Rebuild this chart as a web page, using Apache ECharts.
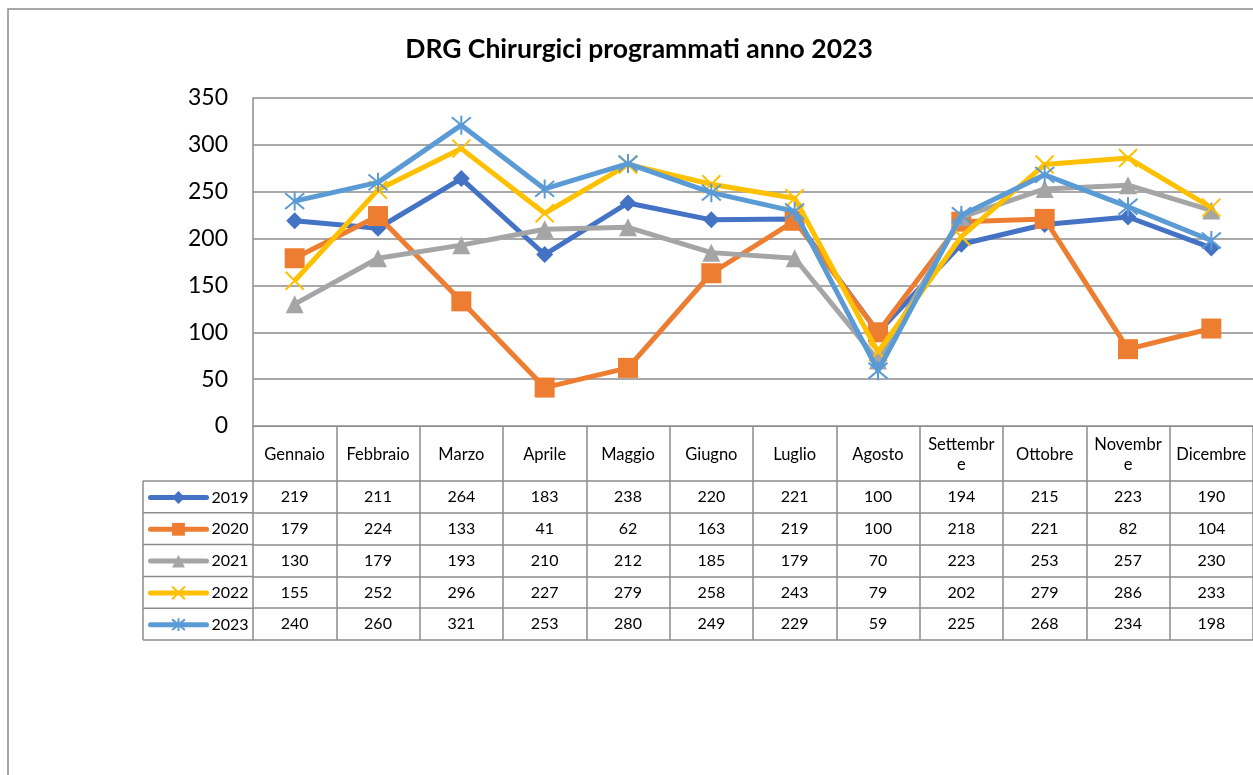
<!DOCTYPE html>
<html>
<head>
<meta charset="utf-8">
<title>DRG Chirurgici programmati anno 2023</title>
<script src="https://cdn.jsdelivr.net/npm/echarts@6/dist/echarts.min.js"></script>
<style>
    html, body { margin: 0; padding: 0; background: #fff; }
    #chart { width: 1253px; height: 775px; }
</style>
</head>
<body>
<div id="chart"></div>
<script>
    // dati
    var mesi = ['Gennaio', 'Febbraio', 'Marzo', 'Aprile', 'Maggio', 'Giugno', 'Luglio', 'Agosto', 'Settembre', 'Ottobre', 'Novembre', 'Dicembre'];
    var anni = ['2019', '2020', '2021', '2022', '2023'];
    var v2019 = [219, 211, 264, 183, 238, 220, 221, 100, 194, 215, 223, 190];
    var v2020 = [179, 224, 133, 41, 62, 163, 219, 100, 218, 221, 82, 104];
    var v2021 = [130, 179, 193, 210, 212, 185, 179, 70, 223, 253, 257, 230];
    var v2022 = [155, 252, 296, 227, 279, 258, 243, 79, 202, 279, 286, 233];
    var v2023 = [240, 260, 321, 253, 280, 249, 229, 59, 225, 268, 234, 198];
    var yTicks = [0, 50, 100, 150, 200, 250, 300, 350];

    var valori = [v2019, v2020, v2021, v2022, v2023];
    var colori = ['#4472C4', '#ED7D31', '#A5A5A5', '#FFC000', '#5B9BD5'];
    var simboli = [
        'diamond',
        'rect',
        'triangle',
        'path://M0,0L10,10M10,0L0,10',
        'path://M0,0L10,10M10,0L0,10M5,-1L5,11'
    ];
    var dimSimboli = [17, 20, 18, 18, 19];

    var FONT = 'Lato, Carlito, Calibri, "Noto Sans", sans-serif';
    var GRIGIO = '#8c8c8c';
    var LEFT = 253, TOP = 98, BOTTOM_Y = 426;
    var HEADER_H = 55, ROW_H = 31.8;
    var LEG_LEFT = 143;

    var myChart = echarts.init(document.getElementById('chart'), null, { renderer: 'canvas' });

    // asse mesi + righe della tabella
    var xAxes = [{
        type: 'category',
        data: mesi,
        boundaryGap: true,
        position: 'bottom',
        axisLine: { show: true, lineStyle: { color: GRIGIO, width: 1 } },
        axisTick: {
            show: true, interval: 0, inside: false,
            length: HEADER_H + ROW_H * anni.length,
            lineStyle: { color: GRIGIO, width: 1.5 }
        },
        axisLabel: {
            interval: 0, margin: 29, verticalAlign: 'middle',
            color: '#000', fontFamily: FONT, fontSize: 16.5, lineHeight: 20,
            width: 72, overflow: 'breakAll', align: 'center'
        }
    }];
    valori.forEach(function (serie, i) {
        xAxes.push({
            type: 'category',
            gridIndex: 0,
            data: mesi,
            position: 'bottom',
            offset: HEADER_H + ROW_H * i,
            axisLine: { show: true, lineStyle: { color: GRIGIO, width: 1.5 } },
            axisTick: { show: false },
            axisLabel: {
                interval: 0, margin: 16, verticalAlign: 'middle',
                color: '#000', fontFamily: FONT, fontSize: 16,
                formatter: function (val, idx) { return String(serie[idx]); }
            }
        });
    });
    // linea di chiusura della tabella
    xAxes.push({
        type: 'category',
        gridIndex: 0,
        data: mesi,
        position: 'bottom',
        offset: HEADER_H + ROW_H * anni.length,
        axisLine: { show: true, lineStyle: { color: GRIGIO, width: 1.5 } },
        axisTick: { show: false },
        axisLabel: { show: false }
    });

    var series = anni.map(function (anno, i) {
        return {
            name: anno,
            type: 'line',
            xAxisIndex: 0,
            data: valori[i],
            symbol: simboli[i],
            symbolSize: dimSimboli[i],
            lineStyle: { color: colori[i], width: 5 },
            itemStyle: {
                color: colori[i],
                borderColor: colori[i],
                borderWidth: i >= 3 ? 2 : 0
            },
            emphasis: { disabled: true },
            z: 2 + i
        };
    });

    // righe della colonna legenda
    var grafica = [{
        type: 'rect',
        shape: { x: 8, y: 9, width: 1400, height: 900 },
        style: { fill: 'none', stroke: GRIGIO, lineWidth: 1.5 },
        silent: true
    }];
    for (var r = 0; r <= anni.length; r++) {
        var yy = BOTTOM_Y + HEADER_H + ROW_H * r;
        grafica.push({
            type: 'line',
            shape: { x1: LEG_LEFT, y1: yy, x2: LEFT, y2: yy },
            style: { stroke: GRIGIO, lineWidth: 1.5 },
            silent: true
        });
    }
    grafica.push({
        type: 'line',
        shape: { x1: LEG_LEFT, y1: BOTTOM_Y + HEADER_H, x2: LEG_LEFT, y2: BOTTOM_Y + HEADER_H + ROW_H * anni.length },
        style: { stroke: GRIGIO, lineWidth: 1.5 },
        silent: true
    });

    var option = {
        animation: false,
        backgroundColor: '#fff',
        title: {
            text: 'DRG Chirurgici programmati anno 2023',
            left: 634,
            top: 31,
            textAlign: 'center',
            textStyle: { fontFamily: FONT, fontSize: 26.5, fontWeight: 'bold', color: '#000' }
        },
        legend: {
            data: anni,
            orient: 'vertical',
            left: 148,
            top: BOTTOM_Y + HEADER_H + 8.5,
            padding: 0,
            itemWidth: 56,
            itemHeight: 16,
            itemGap: 15.8,
            selectedMode: false,
            lineStyle: { width: 5, cap: 'round' },
            textStyle: { fontFamily: FONT, fontSize: 16, color: '#000', lineHeight: 16 }
        },
        grid: {
            left: LEFT,
            right: 0,
            top: TOP,
            bottom: 775 - BOTTOM_Y,
            containLabel: false
        },
        xAxis: xAxes,
        yAxis: {
            type: 'value',
            min: yTicks[0],
            max: yTicks[yTicks.length - 1],
            interval: 50,
            axisLine: { show: true, lineStyle: { color: GRIGIO, width: 1.5 } },
            axisTick: { show: false },
            splitLine: { show: true, lineStyle: { color: GRIGIO, width: 1.5 } },
            axisLabel: { margin: 25, color: '#000', fontFamily: FONT, fontSize: 23 }
        },
        graphic: grafica,
        series: series
    };

    myChart.setOption(option);
</script>
</body>
</html>
